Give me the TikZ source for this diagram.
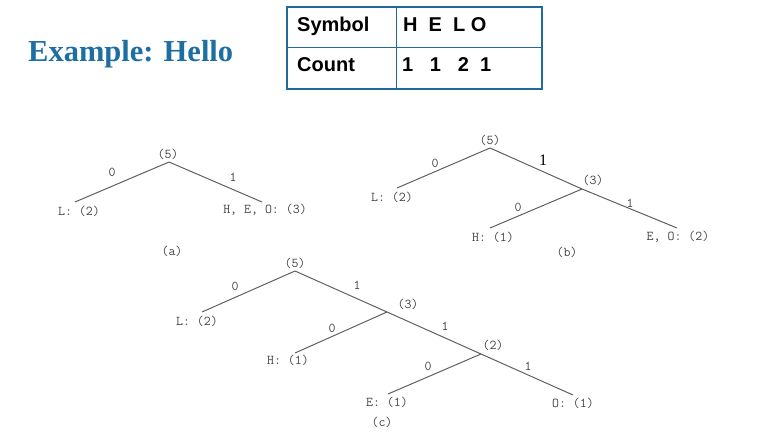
\documentclass[tikz,border=0pt]{standalone}
\usepackage{fontspec}
\setmainfont{Liberation Serif}
\setsansfont{Liberation Sans}
\usepackage{xcolor}
\definecolor{titleblue}{HTML}{1D6FA3}
\definecolor{tableedge}{HTML}{1F6B9C}
\definecolor{treeink}{HTML}{444444}
\definecolor{treeline}{HTML}{606060}

\begin{document}
\begin{tikzpicture}[x=1pt,y=-1pt,
  treetext/.style={font=\fontsize{13.5}{15}\selectfont\ttfamily,text=treeink,inner sep=1pt},
  bigbit/.style={font=\fontsize{16}{18}\selectfont,text=black,inner sep=1pt},
  cell/.style={font=\fontsize{20}{24}\selectfont\sffamily\bfseries,anchor=base west,inner sep=0pt},
  branch/.style={treeline,line width=1pt}]
  \useasboundingbox (0,0) rectangle (763,433);
  % title and the symbol table
  \node[font=\fontsize{30.5}{36}\selectfont\bfseries,text=titleblue,anchor=base west,inner sep=0pt] (title) at (28,62) {Example: Hello};
  \draw[tableedge,line width=2.5pt] (287,7) rectangle (542,89);
  \draw[tableedge,line width=1pt] (396,7) -- (396,89) (287,48) -- (542,48);
  \node[cell] (symhead) at (297,32) {Symbol};
  \node[cell] (symrow) at (403,32) {H\ \ E\ \ L O};
  \node[cell] (cnthead) at (297,72) {Count};
  \node[cell] (cntrow) at (402,72) {1\ \ \ 1\ \ \ 2\ \ 1};

  % tree (a)
  \coordinate (aR) at (169,162);
  \coordinate (aL) at (75,202);
  \coordinate (aHEO) at (262,202);
  \draw[branch] (aR) -- (aL);
  \draw[branch] (aR) -- (aHEO);
  \node[treetext] (aroot) at (168,154) {(5)};
  \node[treetext] (aLlbl) at (79,211) {L: (2)};
  \node[treetext] (aHEOlbl) at (265,210) {H, E, O: (3)};
  \node[treetext] (abit0) at (112,172) {0};
  \node[treetext] (abit1) at (233,177) {1};
  \node[treetext] (acap) at (172,251) {(a)};

  % tree (b)
  \coordinate (bR) at (490,148);
  \coordinate (bL) at (397,188);
  \coordinate (bJ) at (582,189);
  \coordinate (bH) at (490,228);
  \coordinate (bEO) at (677,228);
  \draw[branch] (bR) -- (bL);
  \draw[branch] (bR) -- (bJ) -- (bEO);
  \draw[branch] (bJ) -- (bH);
  \node[treetext] (broot) at (490,140) {(5)};
  \node[treetext] (bJlbl) at (593,180) {(3)};
  \node[treetext] (bLlbl) at (392,197) {L: (2)};
  \node[treetext] (bHlbl) at (493,237) {H: (1)};
  \node[treetext] (bEOlbl) at (678,237) {E, O: (2)};
  \node[treetext] (bbit0) at (435,163) {0};
  \node[bigbit] (bbit1) at (543,160) {1};
  \node[treetext] (bbit00) at (518,207) {0};
  \node[treetext] (bbit11) at (630,203) {1};
  \node[treetext] (bcap) at (567,252) {(b)};

  % tree (c)
  \coordinate (cR) at (295,271);
  \coordinate (cL) at (202,312);
  \coordinate (cJa) at (387,312);
  \coordinate (cH) at (295,353);
  \coordinate (cJb) at (481,354);
  \coordinate (cE) at (388,394);
  \coordinate (cO) at (573,395);
  \draw[branch] (cR) -- (cL);
  \draw[branch] (cR) -- (cJa) -- (cJb) -- (cO);
  \draw[branch] (cJa) -- (cH);
  \draw[branch] (cJb) -- (cE);
  \node[treetext] (croot) at (295,263) {(5)};
  \node[treetext] (cJalbl) at (408,304) {(3)};
  \node[treetext] (cJblbl) at (493,345) {(2)};
  \node[treetext] (cLlbl) at (197,321) {L: (2)};
  \node[treetext] (cHlbl) at (288,360) {H: (1)};
  \node[treetext] (cElbl) at (387,402) {E: (1)};
  \node[treetext] (cOlbl) at (573,403) {O: (1)};
  \node[treetext] (cbit0) at (235,286) {0};
  \node[treetext] (cbit1) at (357,285) {1};
  \node[treetext] (cbit00) at (332,328) {0};
  \node[treetext] (cbit11) at (445,326) {1};
  \node[treetext] (cbit000) at (428,366) {0};
  \node[treetext] (cbit111) at (528,366) {1};
  \node[treetext] (ccap) at (382,422) {(c)};
\end{tikzpicture}
\end{document}
